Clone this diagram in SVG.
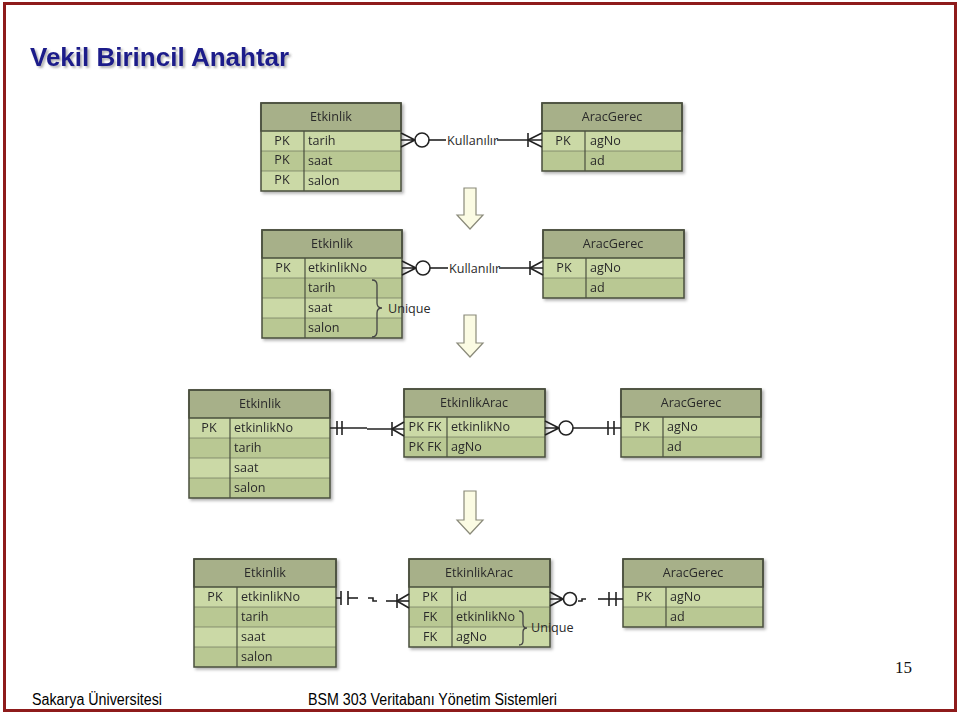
<svg xmlns="http://www.w3.org/2000/svg" width="960" height="717" viewBox="0 0 960 717">
<defs>
<style>
.hd{fill:#a7b089;stroke:#4a4f3e;stroke-width:1.5}
.r1{fill:#cbd9a6}
.r2{fill:#b9c893}
.frame{fill:none;stroke:#4a4f3e;stroke-width:1.5}
.sep{stroke:#4a4f3e;stroke-width:1.2}
.ln{stroke:#5e6450;stroke-width:0.6}
.t{font-family:"Open Sans","DejaVu Sans",sans-serif;font-size:12.6px;fill:#2a2a2a}
.c{text-anchor:middle}
.con{fill:none;stroke:#222;stroke-width:1.6}
.arrow{fill:#fbfbe3;stroke:#8a8a7a;stroke-width:1.2}
.brace{fill:none;stroke:#444;stroke-width:1.3}
.foot{font-family:"Liberation Sans",Arial,sans-serif;font-size:16px;fill:#000}
</style>
<filter id="sh" x="-10%" y="-10%" width="130%" height="130%">
<feDropShadow dx="2" dy="2" stdDeviation="1.5" flood-color="#000" flood-opacity="0.3"/>
</filter>
<filter id="tsh" x="-5%" y="-20%" width="115%" height="150%">
<feDropShadow dx="2" dy="2" stdDeviation="1" flood-color="#555" flood-opacity="0.45"/>
</filter>
</defs>
<rect x="0" y="0" width="960" height="717" fill="#fff"/>
<rect x="4.5" y="3.5" width="951" height="707" fill="none" stroke="#8e1b1b" stroke-width="3"/>
<text x="30" y="66" font-family="'Liberation Sans',Arial,sans-serif" font-size="26" font-weight="bold" fill="#1c1c8a" filter="url(#tsh)">Vekil Birincil Anahtar</text>

<!-- Row 1 -->
<g id="etkinlik1" filter="url(#sh)">
<rect class="r1" x="261" y="131" width="140" height="20"/>
<rect class="r2" x="261" y="151" width="140" height="20"/>
<rect class="r1" x="261" y="171" width="140" height="20"/>
<rect class="hd" x="261" y="103" width="140" height="28"/>
<line class="ln" x1="261" y1="151" x2="401" y2="151"/><line class="ln" x1="261" y1="171" x2="401" y2="171"/>
<line class="sep" x1="304" y1="131" x2="304" y2="191"/>
<rect class="frame" x="261" y="103" width="140" height="88"/>
<text class="t c" x="331" y="121">Etkinlik</text>
<text class="t c" x="282" y="145">PK</text><text class="t" x="308" y="145">tarih</text>
<text class="t c" x="282" y="164">PK</text><text class="t" x="308" y="165">saat</text>
<text class="t c" x="282" y="184">PK</text><text class="t" x="308" y="185">salon</text>
</g>
<g id="aracgerec1" filter="url(#sh)">
<rect class="r1" x="542" y="131" width="140" height="20"/>
<rect class="r2" x="542" y="151" width="140" height="20"/>
<rect class="hd" x="542" y="103" width="140" height="28"/>
<line class="ln" x1="542" y1="151" x2="682" y2="151"/>
<line class="sep" x1="585" y1="131" x2="585" y2="171"/>
<rect class="frame" x="542" y="103" width="140" height="68"/>
<text class="t c" x="612" y="121">AracGerec</text>
<text class="t c" x="563" y="145">PK</text><text class="t" x="590" y="145">agNo</text>
<text class="t" x="590" y="165">ad</text>
</g>

<!-- Row 2 -->
<g id="etkinlik2" filter="url(#sh)">
<rect class="r1" x="262" y="258" width="140" height="20"/>
<rect class="r2" x="262" y="278" width="140" height="20"/>
<rect class="r1" x="262" y="298" width="140" height="20"/>
<rect class="r2" x="262" y="318" width="140" height="20"/>
<rect class="hd" x="262" y="230" width="140" height="28"/>
<line class="ln" x1="262" y1="278" x2="402" y2="278"/><line class="ln" x1="262" y1="298" x2="402" y2="298"/><line class="ln" x1="262" y1="318" x2="402" y2="318"/>
<line class="sep" x1="305" y1="258" x2="305" y2="338"/>
<rect class="frame" x="262" y="230" width="140" height="108"/>
<text class="t c" x="332" y="248">Etkinlik</text>
<text class="t c" x="283" y="272">PK</text><text class="t" x="308" y="272">etkinlikNo</text>
<text class="t" x="308" y="292">tarih</text>
<text class="t" x="308" y="312">saat</text>
<text class="t" x="308" y="332">salon</text>
</g>
<g id="unique2">
<path class="brace" d="M372,280 Q377,280 377,285 L377,303 Q377,308 382,308 Q377,308 377,313 L377,331 Q377,337 372,337"/>
<text class="t" x="388" y="313">Unique</text>
</g>
<g id="aracgerec2" filter="url(#sh)">
<rect class="r1" x="543" y="258" width="141" height="20"/>
<rect class="r2" x="543" y="278" width="141" height="20"/>
<rect class="hd" x="543" y="230" width="141" height="28"/>
<line class="ln" x1="543" y1="278" x2="684" y2="278"/>
<line class="sep" x1="586" y1="258" x2="586" y2="298"/>
<rect class="frame" x="543" y="230" width="141" height="68"/>
<text class="t c" x="613" y="248">AracGerec</text>
<text class="t c" x="564" y="272">PK</text><text class="t" x="590" y="272">agNo</text>
<text class="t" x="590" y="292">ad</text>
</g>

<!-- Row 3 -->
<g id="etkinlik3" filter="url(#sh)">
<rect class="r1" x="189" y="418" width="141" height="20"/>
<rect class="r2" x="189" y="438" width="141" height="20"/>
<rect class="r1" x="189" y="458" width="141" height="20"/>
<rect class="r2" x="189" y="478" width="141" height="20"/>
<rect class="hd" x="189" y="390" width="141" height="28"/>
<line class="ln" x1="189" y1="438" x2="330" y2="438"/><line class="ln" x1="189" y1="458" x2="330" y2="458"/><line class="ln" x1="189" y1="478" x2="330" y2="478"/>
<line class="sep" x1="230" y1="418" x2="230" y2="498"/>
<rect class="frame" x="189" y="390" width="141" height="108"/>
<text class="t c" x="260" y="408">Etkinlik</text>
<text class="t c" x="209" y="432">PK</text><text class="t" x="234" y="432">etkinlikNo</text>
<text class="t" x="234" y="452">tarih</text>
<text class="t" x="234" y="472">saat</text>
<text class="t" x="234" y="492">salon</text>
</g>
<g id="etkinlikarac3" filter="url(#sh)">
<rect class="r1" x="404" y="417" width="141" height="20"/>
<rect class="r2" x="404" y="437" width="141" height="20"/>
<rect class="hd" x="404" y="389" width="141" height="28"/>
<line class="ln" x1="404" y1="437" x2="545" y2="437"/>
<line class="sep" x1="447" y1="417" x2="447" y2="457"/>
<rect class="frame" x="404" y="389" width="141" height="68"/>
<text class="t c" x="474" y="407">EtkinlikArac</text>
<text class="t c" x="425" y="431">PK FK</text><text class="t" x="451" y="431">etkinlikNo</text>
<text class="t c" x="425" y="451">PK FK</text><text class="t" x="451" y="451">agNo</text>
</g>
<g id="aracgerec3" filter="url(#sh)">
<rect class="r1" x="621" y="417" width="140" height="20"/>
<rect class="r2" x="621" y="437" width="140" height="20"/>
<rect class="hd" x="621" y="389" width="140" height="28"/>
<line class="ln" x1="621" y1="437" x2="761" y2="437"/>
<line class="sep" x1="663" y1="417" x2="663" y2="457"/>
<rect class="frame" x="621" y="389" width="140" height="68"/>
<text class="t c" x="691" y="407">AracGerec</text>
<text class="t c" x="642" y="431">PK</text><text class="t" x="667" y="431">agNo</text>
<text class="t" x="667" y="451">ad</text>
</g>

<!-- Row 4 -->
<g id="etkinlik4" filter="url(#sh)">
<rect class="r1" x="194" y="587" width="142" height="20"/>
<rect class="r2" x="194" y="607" width="142" height="20"/>
<rect class="r1" x="194" y="627" width="142" height="20"/>
<rect class="r2" x="194" y="647" width="142" height="20"/>
<rect class="hd" x="194" y="559" width="142" height="28"/>
<line class="ln" x1="194" y1="607" x2="336" y2="607"/><line class="ln" x1="194" y1="627" x2="336" y2="627"/><line class="ln" x1="194" y1="647" x2="336" y2="647"/>
<line class="sep" x1="237" y1="587" x2="237" y2="667"/>
<rect class="frame" x="194" y="559" width="142" height="108"/>
<text class="t c" x="265" y="577">Etkinlik</text>
<text class="t c" x="215" y="601">PK</text><text class="t" x="241" y="601">etkinlikNo</text>
<text class="t" x="241" y="621">tarih</text>
<text class="t" x="241" y="641">saat</text>
<text class="t" x="241" y="661">salon</text>
</g>
<g id="etkinlikarac4" filter="url(#sh)">
<rect class="r1" x="409" y="587" width="141" height="20"/>
<rect class="r2" x="409" y="607" width="141" height="20"/>
<rect class="r1" x="409" y="627" width="141" height="20"/>
<rect class="hd" x="409" y="559" width="141" height="28"/>
<line class="ln" x1="409" y1="607" x2="550" y2="607"/><line class="ln" x1="409" y1="627" x2="550" y2="627"/>
<line class="sep" x1="452" y1="587" x2="452" y2="647"/>
<rect class="frame" x="409" y="559" width="141" height="88"/>
<text class="t c" x="479" y="577">EtkinlikArac</text>
<text class="t c" x="430" y="601">PK</text><text class="t" x="456" y="601">id</text>
<text class="t c" x="430" y="621">FK</text><text class="t" x="456" y="621">etkinlikNo</text>
<text class="t c" x="430" y="641">FK</text><text class="t" x="456" y="641">agNo</text>
</g>
<g id="unique4">
<path class="brace" d="M519,611 Q523,611 523,615 L523,624 Q523,628 527,628 Q523,628 523,632 L523,641 Q523,645 519,645"/>
<text class="t" x="531" y="632">Unique</text>
</g>
<g id="aracgerec4" filter="url(#sh)">
<rect class="r1" x="623" y="587" width="140" height="20"/>
<rect class="r2" x="623" y="607" width="140" height="20"/>
<rect class="hd" x="623" y="559" width="140" height="28"/>
<line class="ln" x1="623" y1="607" x2="763" y2="607"/>
<line class="sep" x1="666" y1="587" x2="666" y2="627"/>
<rect class="frame" x="623" y="559" width="140" height="68"/>
<text class="t c" x="693" y="577">AracGerec</text>
<text class="t c" x="644" y="601">PK</text><text class="t" x="670" y="601">agNo</text>
<text class="t" x="670" y="621">ad</text>
</g>

<!-- Transformation arrows -->
<g id="arrows">
<path class="arrow" d="M464,188 L476,188 L476,215 L483,215 L470,229 L457,215 L464,215 Z"/>
<path class="arrow" d="M464,315 L476,315 L476,343 L483,343 L470,357 L457,343 L464,343 Z"/>
<path class="arrow" d="M464,491 L476,491 L476,520 L483,520 L470,534 L457,520 L464,520 Z"/>
</g>

<!-- Connectors -->
<g id="connectors">
<path class="con" d="M401,133 L415,140 M401,147 L415,140 M401,140 L415,140"/>
<circle class="con" cx="422" cy="140" r="7" fill="#fff"/>
<line class="con" x1="429" y1="140" x2="446" y2="140"/>
<text class="t" x="447" y="144.5">Kullanılır</text>
<line class="con" x1="497" y1="140" x2="542" y2="140"/>
<line class="con" x1="528" y1="133" x2="528" y2="147"/>
<path class="con" d="M528,140 L542,133 M528,140 L542,147"/>
<path class="con" d="M402,261 L416,268 M402,275 L416,268 M402,268 L416,268"/>
<circle class="con" cx="423" cy="268" r="7" fill="#fff"/>
<line class="con" x1="430" y1="268" x2="448" y2="268"/>
<text class="t" x="449" y="272.5">Kullanılır</text>
<line class="con" x1="499" y1="268" x2="543" y2="268"/>
<line class="con" x1="530" y1="261" x2="530" y2="275"/>
<path class="con" d="M530,268 L543,261 M530,268 L543,275"/>
<line class="con" x1="330" y1="428" x2="367" y2="428"/>
<line class="con" x1="367" y1="429" x2="404" y2="429"/>
<line class="con" x1="337" y1="421" x2="337" y2="435"/>
<line class="con" x1="342" y1="421" x2="342" y2="435"/>
<line class="con" x1="392" y1="422" x2="392" y2="436"/>
<path class="con" d="M392,429 L404,422 M392,429 L404,436"/>
<path class="con" d="M545,421 L559,428 M545,435 L559,428 M545,428 L559,428"/>
<circle class="con" cx="566" cy="428" r="7" fill="#fff"/>
<line class="con" x1="573" y1="428" x2="621" y2="428"/>
<line class="con" x1="608" y1="421" x2="608" y2="435"/>
<line class="con" x1="614" y1="421" x2="614" y2="435"/>
<line class="con" x1="336" y1="598" x2="341" y2="598"/>
<line class="con" x1="341" y1="591" x2="341" y2="605"/>
<line class="con" x1="348" y1="591" x2="348" y2="605"/>
<line class="con" x1="348" y1="598" x2="358" y2="598"/>
<path class="con" d="M368,598 L373,598 L373,601 L377,601"/>
<line class="con" x1="386" y1="601" x2="409" y2="601"/>
<line class="con" x1="397" y1="594" x2="397" y2="608"/>
<path class="con" d="M397,601 L409,594 M397,601 L409,608"/>
<path class="con" d="M550,592 L563,599 M550,606 L563,599 M550,599 L563,599"/>
<circle class="con" cx="570" cy="599" r="6.5" fill="#fff"/>
<path class="con" d="M578,601 L582,601 L582,599 L586,599"/>
<line class="con" x1="598" y1="599" x2="623" y2="599"/>
<line class="con" x1="609" y1="592" x2="609" y2="606"/>
<line class="con" x1="616" y1="592" x2="616" y2="606"/>
</g>

<text x="895" y="673" font-family="'Liberation Serif','Times New Roman',serif" font-size="17" fill="#111">15</text>
<text class="foot" x="32" y="705" textLength="130" lengthAdjust="spacingAndGlyphs">Sakarya Üniversitesi</text>
<text class="foot" x="308" y="705" textLength="249" lengthAdjust="spacingAndGlyphs">BSM 303 Veritabanı Yönetim Sistemleri</text>
</svg>
